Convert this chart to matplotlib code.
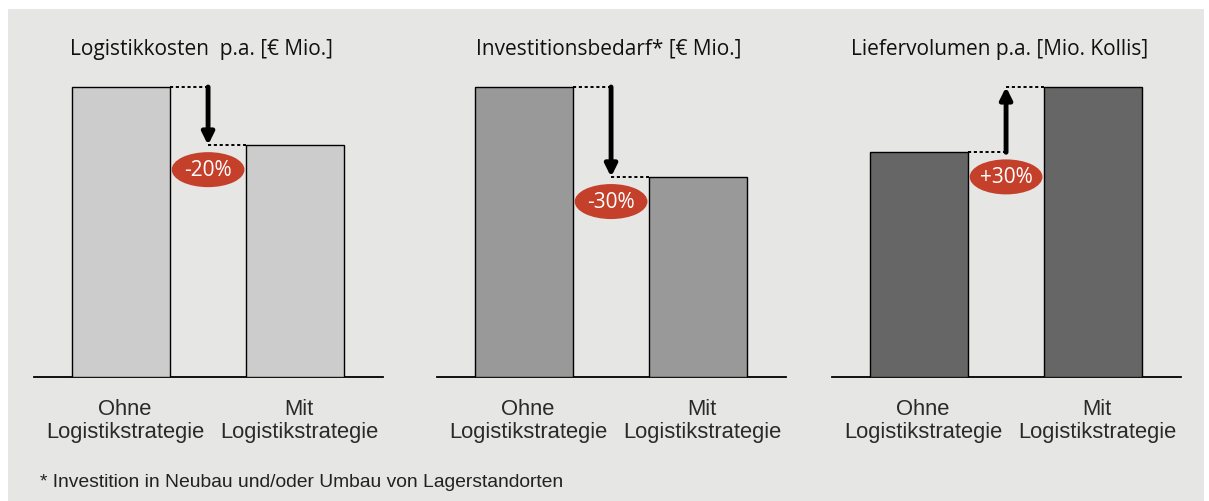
import matplotlib
matplotlib.use("Agg")
import matplotlib.pyplot as plt
from matplotlib.patches import Rectangle, Ellipse
from matplotlib.transforms import ScaledTranslation

# ---- data ----
titles = ["Logistikkosten  p.a. [\u20ac Mio.]", "Investitionsbedarf* [\u20ac Mio.]", "Liefervolumen p.a. [Mio. Kollis]"]
categories = ["Ohne\nLogistikstrategie", "Mit\nLogistikstrategie"]
values_kosten = [100, 80]
values_invest = [100, 69]
values_liefer = [77.5, 100]
change_labels = ["-20%", "-30%", "+30%"]
bar_colors = ["#cccccc", "#999999", "#666666"]
footnote = "* Investition in Neubau und/oder Umbau von Lagerstandorten"

series = [values_kosten, values_invest, values_liefer]

W, H = 1209, 502
fig = plt.figure(figsize=(W / 100, H / 100), dpi=100)
fig.patch.set_facecolor("white")
bg = Rectangle((8 / W, 0), (1204 - 8) / W, (H - 10) / H, transform=fig.transFigure,
               facecolor="#e6e6e4", edgecolor="none", zorder=-10)
fig.patches.append(bg)

panel_left = [34, 437, 832]
panel_width = 349
base_y = 378          # pixel row of baseline
top_px = 88           # pixel row of value 100
ymax = 110
unit_px = (base_y - top_px) / 100.0
ax_h = ymax * unit_px
title_x = [70, 476, 851]
bar_w = 0.565
red = "#c4402b"

label_font = ["Liberation Sans", "DejaVu Sans"]
title_font = ["Open Sans", "DejaVu Sans"]

for i in range(3):
    ax = fig.add_axes([panel_left[i] / W, (H - base_y) / H, panel_width / W, ax_h / H])
    ax.set_facecolor("none")
    vals = series[i]
    x = [0, 1]
    ax.bar(x, vals, width=bar_w, color=bar_colors[i], edgecolor="black", linewidth=1.0, zorder=3)
    ax.set_xlim(-0.5, 1.505)
    ax.set_ylim(0, ymax)
    for s in ["top", "right", "left"]:
        ax.spines[s].set_visible(False)
    ax.spines["bottom"].set_linewidth(1.3)
    ax.set_yticks([])
    ax.set_xticks(x)
    ax.set_xticklabels(categories, family=label_font, fontsize=15.8, color="#2a2a2a", linespacing=1.12)
    ax.tick_params(axis="x", length=0, pad=15)
    for lbl in ax.get_xticklabels():
        lbl.set_transform(lbl.get_transform() + ScaledTranslation(4 / 100, 0, fig.dpi_scale_trans))

    v0, v1 = vals
    xm = 0.5
    # dashed guide lines
    ax.plot([bar_w / 2, xm], [v0, v0], ls=(0, (1.6, 1.4)), color="black", lw=1.4, zorder=4)
    ax.plot([xm, 1 - bar_w / 2], [v1, v1], ls=(0, (1.6, 1.4)), color="black", lw=1.4, zorder=4)
    ax.annotate("", xy=(xm, v1), xytext=(xm, v0),
                arrowprops=dict(arrowstyle="-|>,head_length=0.7,head_width=0.35", lw=3.5,
                                color="black", shrinkA=0, shrinkB=0), zorder=5)
    low = min(v0, v1)
    cy = low - 8.5
    ell = Ellipse((xm, cy), width=73 / 174.5, height=35 / unit_px, facecolor=red,
                  edgecolor="none", zorder=6)
    ax.add_patch(ell)
    ax.text(xm, cy, change_labels[i], ha="center", va="center", color="white",
            fontsize=15, family=title_font, zorder=7)

    fig.text(title_x[i] / W, 1 - 49 / H, titles[i], ha="left", va="center",
             fontsize=15, family=title_font, color="#111111")

fig.text(40 / W, 1 - 483 / H, footnote, ha="left", va="center", fontsize=13.9,
         family=label_font, color="#222222")

fig.savefig("out.png", dpi=100, facecolor=fig.get_facecolor())
